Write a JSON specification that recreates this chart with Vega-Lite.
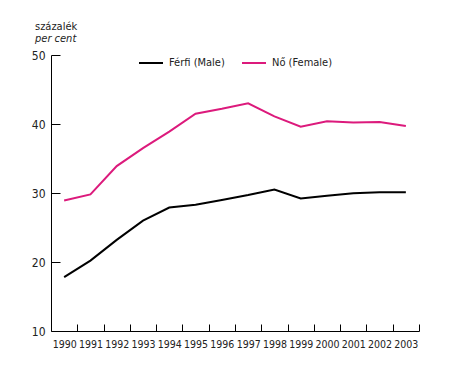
{
  "$schema": "https://vega.github.io/schema/vega-lite/v6.json",
  "width": 368,
  "height": 276,
  "autosize": {"type": "none"},
  "padding": {"left": 51, "top": 55, "right": 53, "bottom": 40},
  "background": "white",
  "title": {
    "text": "százalék",
    "subtitle": "per cent",
    "anchor": "start",
    "frame": "group",
    "dx": -16,
    "offset": 5,
    "font": "DejaVu Sans Condensed, Roboto Condensed, Roboto",
    "fontSize": 11,
    "fontWeight": "normal",
    "lineHeight": 13,
    "color": "#222",
    "subtitleFont": "DejaVu Sans Condensed, Roboto Condensed, Roboto",
    "subtitleFontSize": 11,
    "subtitleFontStyle": "italic",
    "subtitleLineHeight": 13,
    "subtitleColor": "#222",
    "subtitlePadding": 1
  },
  "data": {
    "values": [
      {"year": 1990, "series": "Férfi (Male)", "value": 17.8},
      {"year": 1991, "series": "Férfi (Male)", "value": 20.2},
      {"year": 1992, "series": "Férfi (Male)", "value": 23.2},
      {"year": 1993, "series": "Férfi (Male)", "value": 26.0},
      {"year": 1994, "series": "Férfi (Male)", "value": 27.9},
      {"year": 1995, "series": "Férfi (Male)", "value": 28.3},
      {"year": 1996, "series": "Férfi (Male)", "value": 29.0},
      {"year": 1997, "series": "Férfi (Male)", "value": 29.7},
      {"year": 1998, "series": "Férfi (Male)", "value": 30.5},
      {"year": 1999, "series": "Férfi (Male)", "value": 29.2},
      {"year": 2000, "series": "Férfi (Male)", "value": 29.6},
      {"year": 2001, "series": "Férfi (Male)", "value": 29.95},
      {"year": 2002, "series": "Férfi (Male)", "value": 30.1},
      {"year": 2003, "series": "Férfi (Male)", "value": 30.1},
      {"year": 1990, "series": "Nő (Female)", "value": 28.9},
      {"year": 1991, "series": "Nő (Female)", "value": 29.8},
      {"year": 1992, "series": "Nő (Female)", "value": 33.9},
      {"year": 1993, "series": "Nő (Female)", "value": 36.5},
      {"year": 1994, "series": "Nő (Female)", "value": 38.9},
      {"year": 1995, "series": "Nő (Female)", "value": 41.5},
      {"year": 1996, "series": "Nő (Female)", "value": 42.2},
      {"year": 1997, "series": "Nő (Female)", "value": 43.0},
      {"year": 1998, "series": "Nő (Female)", "value": 41.1},
      {"year": 1999, "series": "Nő (Female)", "value": 39.6},
      {"year": 2000, "series": "Nő (Female)", "value": 40.4},
      {"year": 2001, "series": "Nő (Female)", "value": 40.2},
      {"year": 2002, "series": "Nő (Female)", "value": 40.3},
      {"year": 2003, "series": "Nő (Female)", "value": 39.7}
    ]
  },
  "mark": {"type": "line", "strokeWidth": 2},
  "encoding": {
    "x": {
      "field": "year",
      "type": "quantitative",
      "scale": {"domain": [1989.5, 2003.5], "nice": false, "zero": false},
      "axis": {
        "title": null,
        "values": [1990, 1991, 1992, 1993, 1994, 1995, 1996, 1997, 1998, 1999, 2000, 2001, 2002, 2003],
        "format": "d",
        "grid": false,
        "tickSize": -7,
        "tickOffset": 13.14,
        "labelOffset": -13.14,
        "labelPadding": 15,
        "labelBaseline": "top",
        "labelFontSize": 10.5,
        "labelOverlap": false,
        "labelBound": false,
        "labelFlush": false
      }
    },
    "y": {
      "field": "value",
      "type": "quantitative",
      "scale": {"domain": [10, 50], "nice": false, "zero": false},
      "axis": {
        "title": null,
        "values": [10, 20, 30, 40, 50],
        "grid": false,
        "tickSize": -9,
        "labelPadding": 15,
        "labelOverlap": false
      }
    },
    "color": {
      "field": "series",
      "type": "nominal",
      "sort": ["Férfi (Male)", "Nő (Female)"],
      "scale": {"domain": ["Férfi (Male)", "Nő (Female)"], "range": ["#000000", "#dc1a7c"]},
      "legend": {
        "title": null,
        "orient": "none",
        "legendX": 87,
        "legendY": -5,
        "direction": "horizontal",
        "symbolType": "stroke",
        "symbolSize": 576,
        "symbolStrokeWidth": 2,
        "labelOffset": 5,
        "columnPadding": 13,
        "labelFont": "DejaVu Sans Condensed, Roboto Condensed, Roboto",
        "labelFontSize": 11,
        "labelColor": "#222"
      }
    }
  },
  "config": {
    "view": {"stroke": null},
    "axis": {
      "domainColor": "#000",
      "domainWidth": 1,
      "tickColor": "#000",
      "tickWidth": 1,
      "labelFont": "DejaVu Sans Condensed, Roboto Condensed, Roboto",
      "labelFontSize": 12,
      "labelColor": "#222"
    }
  }
}
